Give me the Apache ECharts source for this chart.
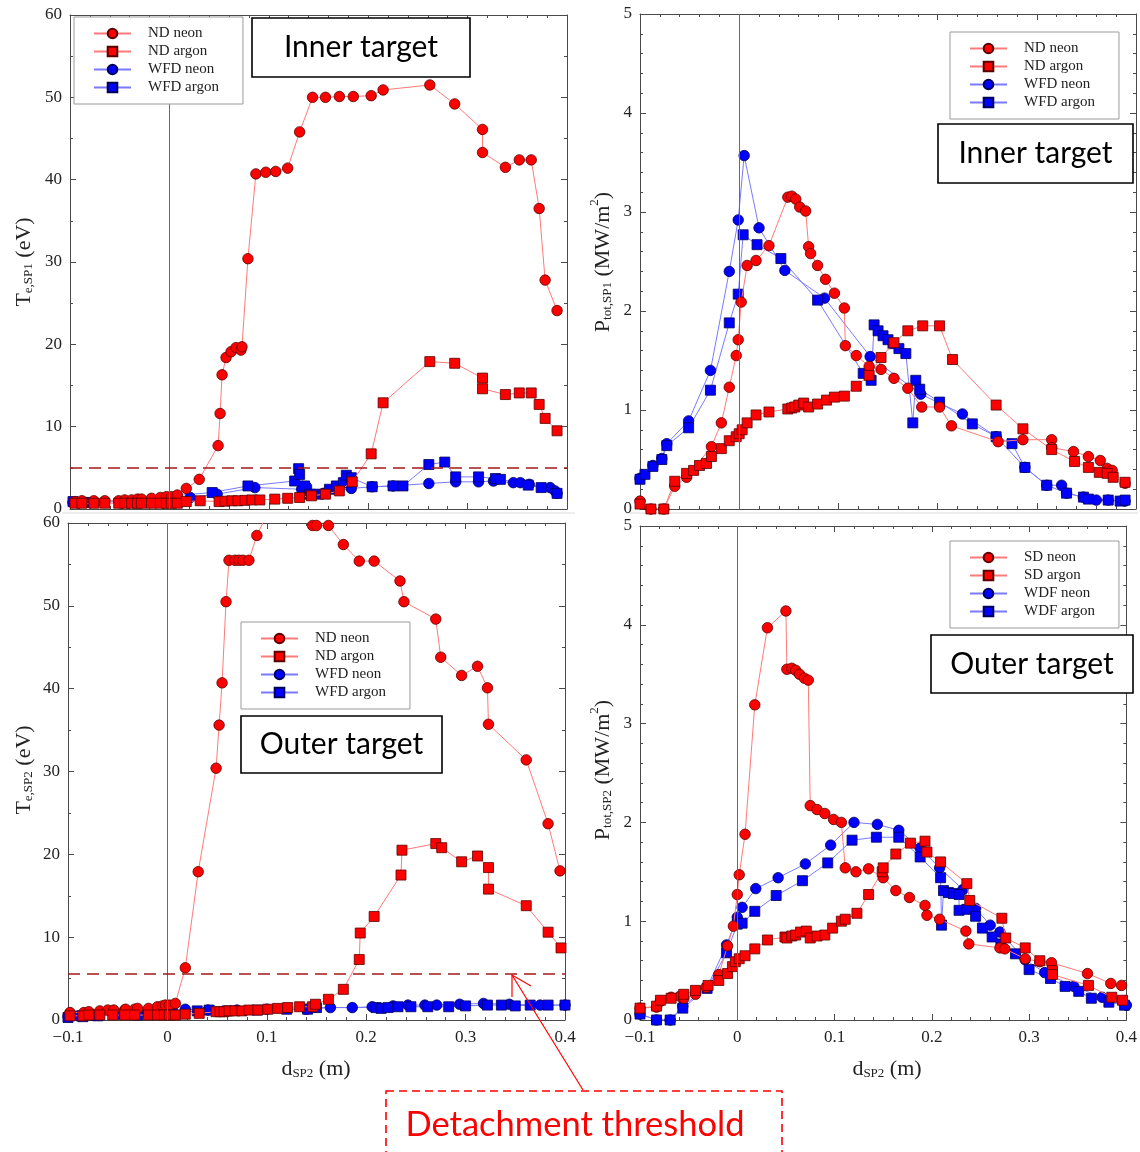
<!DOCTYPE html>
<html>
<head>
<meta charset="utf-8">
<title>Target temperature and power vs dSP2</title>
<script src="https://cdn.jsdelivr.net/npm/echarts@6/dist/echarts.min.js"></script>
<style>
  html, body { margin: 0; padding: 0; background: #ffffff; }
  #chart { width: 1140px; height: 1152px; }
</style>
</head>
<body>
<div id="chart"></div>
<script>
// ---- Axis ranges / ticks ----
const xRange = [-0.1, 0.4];
const xStep = 0.1;
const teRange = [0, 60];
const teStep = 10;
const pRange = [0, 5];
const pStep = 1;
const threshInner = 5.0;   // Te detachment threshold, inner target (eV)
const threshOuter = 5.6;   // Te detachment threshold, outer target (eV)

// ---- Inner target, Te,SP1 (eV) ----
const innerTeNdNeon = [[-0.095,0.9],[-0.088,1.0],[-0.076,1.0],[-0.065,1.0],[-0.051,1.0],[-0.045,1.1],[-0.038,1.1],[-0.032,1.2],[-0.028,1.2],[-0.018,1.3],[-0.009,1.4],[-0.003,1.5],[0.002,1.5],[0.008,1.7],[0.017,2.5],[0.030,3.6],[0.049,7.7],[0.051,11.6],[0.053,16.3],[0.057,18.4],[0.062,19.1],[0.067,19.6],[0.072,19.3],[0.073,19.7],[0.079,30.4],[0.087,40.7],[0.097,40.9],[0.107,41.0],[0.119,41.4],[0.131,45.8],[0.144,50.0],[0.157,50.0],[0.171,50.1],[0.185,50.1],[0.203,50.2],[0.215,50.9],[0.262,51.5],[0.287,49.2],[0.315,46.1],[0.315,43.3],[0.338,41.5],[0.352,42.4],[0.364,42.4],[0.372,36.5],[0.378,27.8],[0.390,24.1]];
const innerTeNdArgon = [[-0.095,0.7],[-0.088,0.7],[-0.076,0.7],[-0.065,0.7],[-0.051,0.7],[-0.045,0.7],[-0.038,0.7],[-0.032,0.7],[-0.028,0.7],[-0.018,0.7],[-0.009,0.7],[-0.003,0.7],[0.002,0.7],[0.008,0.7],[0.017,0.9],[0.031,1.0],[0.050,0.9],[0.056,0.95],[0.063,1.0],[0.069,1.0],[0.076,1.05],[0.083,1.1],[0.091,1.1],[0.106,1.2],[0.119,1.3],[0.131,1.4],[0.143,1.6],[0.157,1.8],[0.171,2.2],[0.184,3.3],[0.203,6.7],[0.215,12.9],[0.262,17.9],[0.287,17.7],[0.315,15.9],[0.315,14.6],[0.338,13.9],[0.352,14.1],[0.364,14.1],[0.372,12.7],[0.378,11.0],[0.390,9.5]];
const innerTeWfdNeon = [[-0.097,0.8],[-0.085,0.8],[-0.075,0.8],[0.005,1.1],[0.021,1.4],[0.048,1.8],[0.086,2.6],[0.133,2.4],[0.138,2.7],[0.155,1.9],[0.183,2.5],[0.204,2.7],[0.225,2.8],[0.261,3.1],[0.288,3.3],[0.311,3.3],[0.326,3.4],[0.346,3.2],[0.353,3.2],[0.362,3.0],[0.383,2.6],[0.388,2.2],[0.390,1.9]];
const innerTeWfdArgon = [[-0.097,0.9],[-0.088,0.8],[-0.078,0.8],[0.043,2.0],[0.079,2.8],[0.126,3.4],[0.130,4.9],[0.131,4.2],[0.136,2.8],[0.141,1.8],[0.150,1.8],[0.161,2.4],[0.168,2.8],[0.175,3.2],[0.178,4.1],[0.183,3.8],[0.204,2.7],[0.225,2.8],[0.235,2.8],[0.261,5.4],[0.277,5.7],[0.288,3.9],[0.311,3.9],[0.328,3.7],[0.333,3.6],[0.361,2.9],[0.374,2.6],[0.390,1.9]];

// ---- Inner target, Ptot,SP1 (MW/m2) ----
const innerPNdNeon = [[-0.1,0.08],[-0.089,0.0],[-0.076,0.0],[-0.065,0.23],[-0.053,0.32],[-0.028,0.63],[-0.018,0.87],[-0.010,1.23],[-0.003,1.55],[-0.001,1.71],[0.002,2.09],[0.008,2.46],[0.017,2.51],[0.030,2.66],[0.049,3.15],[0.053,3.16],[0.057,3.13],[0.061,3.05],[0.067,3.01],[0.070,2.65],[0.072,2.58],[0.079,2.46],[0.087,2.32],[0.096,2.18],[0.106,2.03],[0.107,1.65],[0.118,1.55],[0.131,1.44],[0.143,1.41],[0.156,1.32],[0.170,1.22],[0.184,1.03],[0.202,1.03],[0.214,0.84],[0.261,0.68],[0.286,0.70],[0.315,0.70],[0.315,0.62],[0.337,0.58],[0.352,0.53],[0.364,0.49],[0.371,0.41],[0.376,0.39],[0.389,0.26]];
const innerPNdArgon = [[-0.1,0.05],[-0.089,0.0],[-0.076,0.0],[-0.065,0.28],[-0.053,0.36],[-0.046,0.39],[-0.040,0.44],[-0.033,0.46],[-0.028,0.53],[-0.018,0.61],[-0.010,0.69],[-0.003,0.73],[0.000,0.76],[0.003,0.80],[0.008,0.87],[0.017,0.95],[0.030,0.98],[0.049,1.01],[0.053,1.02],[0.056,1.03],[0.060,1.05],[0.065,1.07],[0.070,1.03],[0.079,1.06],[0.088,1.10],[0.096,1.13],[0.106,1.14],[0.118,1.24],[0.131,1.35],[0.143,1.53],[0.156,1.68],[0.170,1.80],[0.185,1.85],[0.202,1.85],[0.215,1.51],[0.259,1.05],[0.286,0.81],[0.315,0.60],[0.338,0.48],[0.352,0.42],[0.363,0.37],[0.371,0.36],[0.377,0.32],[0.389,0.27]];
const innerPWfdNeon = [[-0.1,0.31],[-0.087,0.44],[-0.078,0.51],[-0.073,0.66],[-0.051,0.89],[-0.029,1.40],[-0.010,2.40],[-0.001,2.92],[0.005,3.57],[0.020,2.84],[0.046,2.41],[0.086,2.13],[0.132,1.54],[0.183,1.16],[0.225,0.96],[0.259,0.73],[0.288,0.42],[0.310,0.24],[0.325,0.24],[0.330,0.16],[0.347,0.12],[0.360,0.09],[0.372,0.09],[0.389,0.08]];
const innerPWfdArgon = [[-0.1,0.30],[-0.095,0.35],[-0.087,0.43],[-0.078,0.50],[-0.073,0.64],[-0.051,0.82],[-0.029,1.20],[-0.010,1.88],[-0.001,2.17],[0.004,2.77],[0.018,2.67],[0.042,2.53],[0.079,2.11],[0.125,1.37],[0.133,1.30],[0.136,1.86],[0.140,1.80],[0.145,1.75],[0.150,1.71],[0.155,1.67],[0.161,1.62],[0.168,1.57],[0.175,0.87],[0.178,1.30],[0.182,1.21],[0.202,1.08],[0.235,0.86],[0.259,0.73],[0.275,0.66],[0.288,0.42],[0.310,0.24],[0.330,0.16],[0.347,0.12],[0.352,0.10],[0.372,0.09],[0.384,0.08],[0.389,0.09]];

// ---- Outer target, Te,SP2 (eV) ----
const outerTeNdNeon = [[-0.098,0.9],[-0.084,0.9],[-0.079,1.0],[-0.068,1.1],[-0.060,1.2],[-0.054,1.2],[-0.043,1.2],[-0.042,1.3],[-0.033,1.3],[-0.030,1.4],[-0.019,1.4],[-0.010,1.6],[-0.005,1.7],[-0.002,1.8],[0.002,1.8],[0.008,2.0],[0.018,6.3],[0.031,17.9],[0.049,30.4],[0.052,35.6],[0.055,40.7],[0.059,50.5],[0.062,55.5],[0.068,55.5],[0.072,55.5],[0.076,55.5],[0.082,55.5],[0.090,58.5],[0.120,66.0],[0.146,59.7],[0.150,59.7],[0.162,59.7],[0.177,57.4],[0.193,55.4],[0.208,55.4],[0.234,53.0],[0.238,50.5],[0.270,48.4],[0.275,43.8],[0.296,41.6],[0.312,42.7],[0.322,40.1],[0.323,35.7],[0.361,31.4],[0.383,23.7],[0.395,18.0]];
const outerTeNdArgon = [[-0.098,0.5],[-0.085,0.5],[-0.079,0.6],[-0.068,0.6],[-0.055,0.6],[-0.043,0.6],[-0.033,0.6],[-0.019,0.6],[-0.010,0.6],[-0.003,0.6],[0.002,0.6],[0.008,0.6],[0.018,0.7],[0.032,0.8],[0.049,1.0],[0.053,1.0],[0.057,1.0],[0.062,1.1],[0.068,1.1],[0.075,1.1],[0.082,1.2],[0.091,1.2],[0.101,1.3],[0.111,1.4],[0.121,1.5],[0.133,1.6],[0.146,1.6],[0.149,1.9],[0.162,2.5],[0.177,3.7],[0.193,7.3],[0.194,10.5],[0.208,12.5],[0.235,17.5],[0.236,20.5],[0.270,21.3],[0.276,20.8],[0.296,19.1],[0.312,19.8],[0.323,18.4],[0.323,15.8],[0.361,13.8],[0.383,10.6],[0.396,8.7]];
const outerTeWfdNeon = [[-0.1,0.4],[-0.09,0.5],[-0.075,0.6],[-0.05,0.7],[-0.02,0.8],[0.005,1.1],[0.018,1.3],[0.041,1.2],[0.070,1.2],[0.100,1.3],[0.140,1.3],[0.164,1.5],[0.186,1.5],[0.206,1.6],[0.227,1.7],[0.242,1.8],[0.259,1.8],[0.271,1.8],[0.294,1.9],[0.318,2.0],[0.344,1.9],[0.375,1.8],[0.400,1.8]];
const outerTeWfdArgon = [[-0.1,0.3],[-0.085,0.4],[-0.07,0.5],[-0.03,0.6],[0.000,0.8],[0.030,1.1],[0.042,1.2],[0.060,1.1],[0.090,1.2],[0.120,1.3],[0.141,1.3],[0.150,1.5],[0.210,1.5],[0.215,1.4],[0.222,1.5],[0.232,1.6],[0.245,1.6],[0.262,1.6],[0.283,1.6],[0.300,1.7],[0.322,1.8],[0.336,1.8],[0.350,1.7],[0.365,1.8],[0.383,1.8],[0.400,1.8]];

// ---- Outer target, Ptot,SP2 (MW/m2) ----
const outerPSdNeon = [[-0.1,0.12],[-0.083,0.13],[-0.079,0.19],[-0.068,0.23],[-0.059,0.24],[-0.055,0.22],[-0.043,0.26],[-0.032,0.33],[-0.019,0.46],[-0.010,0.75],[-0.004,0.95],[0.000,1.27],[0.002,1.47],[0.008,1.88],[0.018,3.19],[0.031,3.97],[0.050,4.14],[0.051,3.55],[0.056,3.56],[0.060,3.54],[0.064,3.50],[0.069,3.46],[0.073,3.44],[0.075,2.17],[0.082,2.13],[0.090,2.09],[0.099,2.03],[0.107,2.00],[0.111,1.54],[0.122,1.50],[0.135,1.53],[0.150,1.44],[0.163,1.31],[0.177,1.24],[0.193,1.16],[0.195,1.06],[0.208,1.02],[0.235,0.90],[0.238,0.77],[0.270,0.73],[0.275,0.72],[0.296,0.62],[0.311,0.59],[0.323,0.58],[0.360,0.47],[0.384,0.37],[0.395,0.35]];
const outerPSdArgon = [[-0.1,0.12],[-0.083,0.14],[-0.079,0.20],[-0.068,0.22],[-0.055,0.26],[-0.043,0.30],[-0.030,0.35],[-0.019,0.40],[-0.010,0.47],[-0.005,0.54],[-0.002,0.59],[0.002,0.62],[0.008,0.65],[0.018,0.72],[0.031,0.81],[0.049,0.84],[0.051,0.83],[0.056,0.85],[0.060,0.86],[0.065,0.89],[0.071,0.90],[0.075,0.83],[0.082,0.85],[0.090,0.86],[0.098,0.93],[0.107,1.00],[0.111,1.02],[0.123,1.08],[0.135,1.27],[0.149,1.50],[0.150,1.54],[0.163,1.68],[0.178,1.79],[0.193,1.81],[0.195,1.70],[0.209,1.60],[0.236,1.38],[0.239,1.21],[0.272,1.03],[0.276,0.83],[0.296,0.73],[0.311,0.60],[0.324,0.50],[0.324,0.46],[0.361,0.35],[0.385,0.23],[0.396,0.20]];
const outerPWdfNeon = [[-0.1,0.06],[-0.083,0.0],[-0.069,0.0],[-0.056,0.14],[-0.031,0.33],[-0.011,0.76],[0.000,1.04],[0.005,1.14],[0.019,1.33],[0.042,1.44],[0.070,1.58],[0.096,1.77],[0.120,2.00],[0.144,1.98],[0.166,1.92],[0.188,1.74],[0.208,1.54],[0.232,1.32],[0.245,1.13],[0.260,0.96],[0.270,0.89],[0.296,0.61],[0.316,0.48],[0.346,0.34],[0.375,0.23],[0.400,0.15]];
const outerPWdfArgon = [[-0.1,0.06],[-0.083,0.0],[-0.069,0.0],[-0.056,0.12],[-0.031,0.32],[-0.011,0.68],[0.000,0.97],[0.005,0.98],[0.018,1.10],[0.040,1.26],[0.067,1.41],[0.093,1.59],[0.118,1.82],[0.143,1.85],[0.166,1.85],[0.188,1.65],[0.209,1.44],[0.210,0.96],[0.212,1.31],[0.217,1.29],[0.222,1.28],[0.228,1.27],[0.228,1.11],[0.236,1.12],[0.245,1.05],[0.252,0.93],[0.262,0.84],[0.271,0.77],[0.286,0.67],[0.300,0.51],[0.322,0.42],[0.337,0.34],[0.351,0.29],[0.364,0.22],[0.382,0.18],[0.398,0.15]];

// ---- Legend labels ----
const namesND = ['ND neon', 'ND argon', 'WFD neon', 'WFD argon'];
const namesSD = ['SD neon', 'SD argon', 'WDF neon', 'WDF argon'];

// ---- Styling helpers ----
const serif = "'Liberation Serif', 'DejaVu Serif', serif";
const sans = "Lato, 'Open Sans', sans-serif";
const RED = { fill: '#ff0000', edge: '#5a0000', line: '#ff7a7a' };
const BLUE = { fill: '#0000ff', edge: '#00005a', line: '#7a7aff' };

const grids = [
  { left: 70,  top: 15,  width: 497, height: 494 },
  { left: 640, top: 14,  width: 496, height: 495 },
  { left: 68,  top: 523, width: 497, height: 497 },
  { left: 640, top: 526, width: 493, height: 494 }
];

function tickText(v) {
  if (Math.abs(v) < 1e-9) return '0';
  const s = String(Math.round(v * 10) / 10);
  return s.replace('-', '\u2212');
}

const axisLineStyle = { color: '#4a4a4a', width: 1 };
function xAxesFor(gi, showLabels) {
  const base = {
    type: 'value', gridIndex: gi, min: xRange[0], max: xRange[1], interval: xStep,
    axisLine: { show: true, onZero: false, lineStyle: axisLineStyle },
    axisTick: { show: true, inside: true, length: 6, lineStyle: axisLineStyle },
    minorTick: { show: true, splitNumber: 5, length: 3, lineStyle: axisLineStyle },
    splitLine: { show: false }, minorSplitLine: { show: false }
  };
  return [
    Object.assign({}, base, { position: 'bottom',
      axisLabel: { show: showLabels, formatter: tickText, fontFamily: serif, fontSize: 17, color: '#222', margin: 9 } }),
    Object.assign({}, base, { position: 'top', axisLabel: { show: false } })
  ];
}
function yAxesFor(gi, range, step, minorSplit) {
  const base = {
    type: 'value', gridIndex: gi, min: range[0], max: range[1], interval: step,
    axisLine: { show: true, onZero: false, lineStyle: axisLineStyle },
    axisTick: { show: true, inside: true, length: 6, lineStyle: axisLineStyle },
    minorTick: { show: true, splitNumber: minorSplit, length: 3, lineStyle: axisLineStyle },
    splitLine: { show: false }, minorSplitLine: { show: false }
  };
  return [
    Object.assign({}, base, { position: 'left',
      axisLabel: { show: true, fontFamily: serif, fontSize: 17, color: '#222', margin: 8 } }),
    Object.assign({}, base, { position: 'right', axisLabel: { show: false } })
  ];
}

function series(name, data, gi, shape, col, z) {
  return {
    type: 'line', name: name, data: data,
    xAxisIndex: 2 * gi, yAxisIndex: 2 * gi,
    symbol: shape === 'c' ? 'circle' : 'rect',
    symbolSize: shape === 'c' ? 10.5 : 10,
    lineStyle: { color: col.line, width: 1 },
    itemStyle: { color: col.fill, borderColor: col.edge, borderWidth: 0.8 },
    emphasis: { disabled: true },
    animation: false, clip: true, z: z
  };
}

function refLines(gi, thresh) {
  const data = [{ xAxis: 0, lineStyle: { color: '#6a6a6a', width: 1, type: 'solid' } }];
  if (thresh !== null) {
    data.push({ yAxis: thresh, lineStyle: { color: '#a31818', width: 1.5, type: [12, 7] } });
  }
  return {
    type: 'line', data: [], xAxisIndex: 2 * gi, yAxisIndex: 2 * gi,
    silent: true, animation: false, z: 1,
    markLine: { silent: true, symbol: 'none', label: { show: false }, animation: false, data: data }
  };
}

function legendAt(left, top, names) {
  return {
    orient: 'vertical', left: left, top: top, data: names,
    itemWidth: 37, itemHeight: 12, itemGap: 3,
    padding: [9, 24, 9, 19],
    borderColor: '#9a9a9a', borderWidth: 1, backgroundColor: '#ffffff',
    selectedMode: false,
    textStyle: { fontFamily: serif, fontSize: 15, color: '#222', padding: [0, 0, 0, 12] },
    z: 10
  };
}

function label(x, y, text, rot) {
  return {
    type: 'text', x: x, y: y, rotation: rot, z: 20,
    style: {
      text: text, fill: '#222', align: 'center', verticalAlign: 'middle',
      rich: {
        m: { fontFamily: serif, fontSize: 22, lineHeight: 26, verticalAlign: 'bottom', fill: '#222' },
        s: { fontFamily: serif, fontSize: 13, lineHeight: 9, verticalAlign: 'bottom', fill: '#222' },
        p: { fontFamily: serif, fontSize: 13, lineHeight: 12, verticalAlign: 'top', fill: '#222' }
      }
    }
  };
}

function boxText(x, y, w, h, text) {
  return [
    { type: 'rect', z: 20, shape: { x: x, y: y, width: w, height: h },
      style: { fill: '#ffffff', stroke: '#000000', lineWidth: 1.6 } },
    { type: 'text', z: 21, x: x + w / 2, y: y + h / 2,
      style: { text: text, fontFamily: sans, fontSize: 30, fill: '#000000', align: 'center', verticalAlign: 'middle' } }
  ];
}

const xAxis = [].concat(xAxesFor(0, false), xAxesFor(1, false), xAxesFor(2, true), xAxesFor(3, true));
const yAxis = [].concat(yAxesFor(0, teRange, teStep, 2), yAxesFor(1, pRange, pStep, 5),
                        yAxesFor(2, teRange, teStep, 2), yAxesFor(3, pRange, pStep, 5));

const seriesList = [
  refLines(0, threshInner),
  series('WFD neon', innerTeWfdNeon, 0, 'c', BLUE, 2),
  series('WFD argon', innerTeWfdArgon, 0, 's', BLUE, 2),
  series('ND neon', innerTeNdNeon, 0, 'c', RED, 3),
  series('ND argon', innerTeNdArgon, 0, 's', RED, 3),

  refLines(1, null),
  series('WFD neon', innerPWfdNeon, 1, 'c', BLUE, 2),
  series('WFD argon', innerPWfdArgon, 1, 's', BLUE, 2),
  series('ND neon', innerPNdNeon, 1, 'c', RED, 3),
  series('ND argon', innerPNdArgon, 1, 's', RED, 3),

  refLines(2, threshOuter),
  series('WFD neon', outerTeWfdNeon, 2, 'c', BLUE, 2),
  series('WFD argon', outerTeWfdArgon, 2, 's', BLUE, 2),
  series('ND neon', outerTeNdNeon, 2, 'c', RED, 3),
  series('ND argon', outerTeNdArgon, 2, 's', RED, 3),

  refLines(3, null),
  series('WDF neon', outerPWdfNeon, 3, 'c', BLUE, 2),
  series('WDF argon', outerPWdfArgon, 3, 's', BLUE, 2),
  series('SD neon', outerPSdNeon, 3, 'c', RED, 3),
  series('SD argon', outerPSdArgon, 3, 's', RED, 3)
];

const graphics = [].concat(
  // faint seam between upper and lower rows
  [{ type: 'line', z: 0, shape: { x1: 62, y1: 513, x2: 575, y2: 513 }, style: { stroke: '#dcdcdc', lineWidth: 1 } },
   { type: 'line', z: 0, shape: { x1: 625, y1: 513, x2: 1138, y2: 513 }, style: { stroke: '#dcdcdc', lineWidth: 1 } }],
  // axis titles
  [label(22, 262, '{m|T}{s|e,SP1}{m| (eV)}', Math.PI / 2),
   label(601, 262, '{m|P}{s|tot,SP1}{m| (MW/m}{p|2}{m|)}', Math.PI / 2),
   label(22, 770, '{m|T}{s|e,SP2}{m| (eV)}', Math.PI / 2),
   label(601, 770, '{m|P}{s|tot,SP2}{m| (MW/m}{p|2}{m|)}', Math.PI / 2),
   label(316, 1067, '{m|d}{s|SP2}{m| (m)}', 0),
   label(887, 1067, '{m|d}{s|SP2}{m| (m)}', 0)],
  // panel tags
  boxText(252, 18, 218, 59, 'Inner target'),
  boxText(938, 124, 195, 59, 'Inner target'),
  boxText(241, 716, 201, 57, 'Outer target'),
  boxText(931, 635, 202, 58, 'Outer target'),
  // threshold call-out
  [{ type: 'line', z: 22, shape: { x1: 583, y1: 1090, x2: 512, y2: 975 },
     style: { stroke: '#ff0000', lineWidth: 1.2 } },
   { type: 'polyline', z: 22, shape: { points: [[512, 997], [512, 975], [531, 986]] },
     style: { stroke: '#ff0000', fill: null, lineWidth: 1.2 } },
   { type: 'rect', z: 22, shape: { x: 386, y: 1091, width: 396, height: 80 },
     style: { fill: null, stroke: '#ff0000', lineWidth: 1.6, lineDash: [8, 5] } },
   { type: 'text', z: 22, x: 575, y: 1125,
     style: { text: 'Detachment threshold', fontFamily: sans, fontSize: 34.5, fill: '#ff0000', align: 'center', verticalAlign: 'middle' } }]
);

const chart = echarts.init(document.getElementById('chart'), null, { renderer: 'canvas' });
chart.setOption({
  backgroundColor: '#ffffff',
  animation: false,
  grid: grids.map(g => Object.assign({ show: false, containLabel: false }, g)),
  xAxis: xAxis,
  yAxis: yAxis,
  legend: [
    legendAt(74, 17, namesND),
    legendAt(950, 32, namesND),
    legendAt(241, 622, namesND),
    legendAt(950, 541, namesSD)
  ],
  series: seriesList,
  graphic: { elements: graphics }
});
</script>
</body>
</html>
